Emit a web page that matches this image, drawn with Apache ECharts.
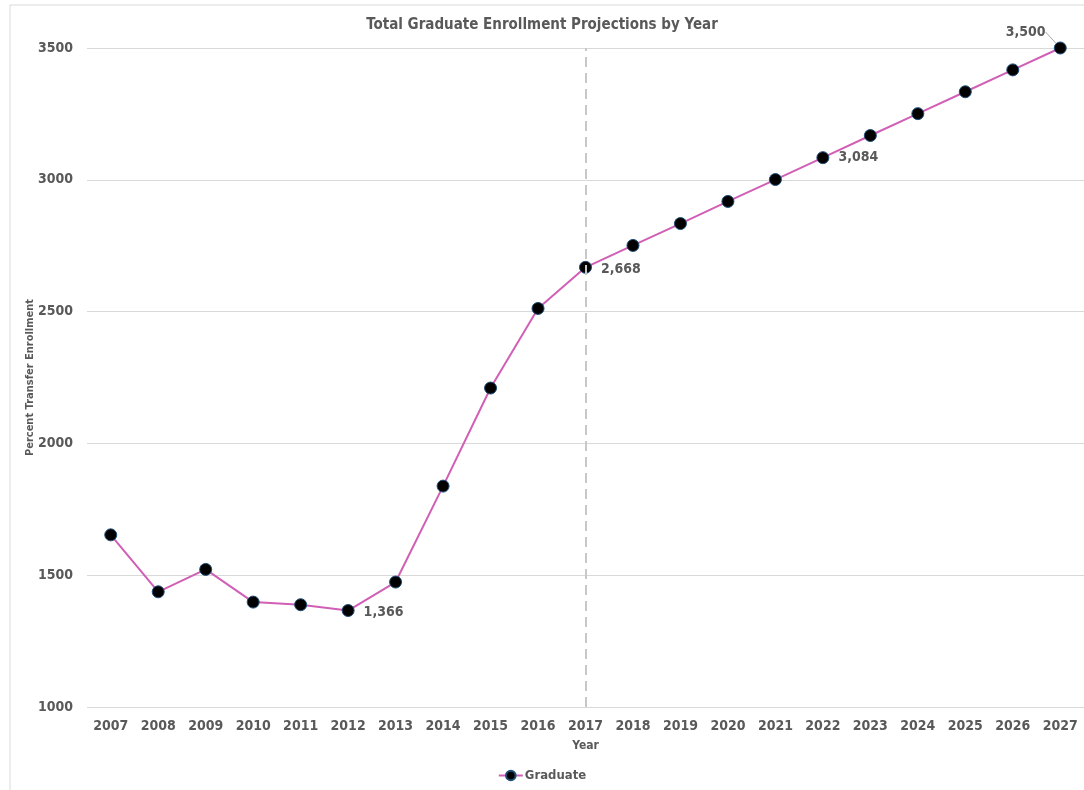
<!DOCTYPE html>
<html>
<head>
<meta charset="utf-8">
<script src="https://cdn.jsdelivr.net/npm/echarts@6/dist/echarts.min.js"></script>
<style>
html,body{margin:0;padding:0;background:#fff;}
#main{width:1084px;height:790px;}
</style>
</head>
<body>
<div id="main"></div>
<script>
var years = ['2007','2008','2009','2010','2011','2012','2013','2014','2015','2016','2017',
	'2018','2019','2020','2021','2022','2023','2024','2025','2026','2027'];
var graduate = [1653,1437,1522,1398,1388,1366,1474,1838,2210,2512,2668,
	2751,2834,2918,3001,3084,3168,3251,3334,3417,3500];
var labeledYears = ['2012','2017','2022','2027'];
var yTicks = {min:1000, max:3500, interval:500};

var font = "'Liberation Sans Narrow','DejaVu Sans Condensed','Roboto',sans-serif";
var txt = '#595959';
var chart = echarts.init(document.getElementById('main'));

// only the last point gets a leader line to its label
var seriesData = graduate.map(function(v, i) {
	var item = {value: v};
	if (i === graduate.length - 1) {
		item.labelLine = {show: true, lineStyle: {color: '#a6a6a6', width: 1}};
	}
	return item;
});

var option = {
	backgroundColor: '#fff',
	textStyle: {fontFamily: font},
	title: {
		text: 'Total Graduate Enrollment Projections by Year',
		left: 'center',
		top: 13,
		textStyle: {color: txt, fontSize: 15, fontWeight: 'bold', fontFamily: font}
	},
	graphic: [{
		type: 'rect',
		shape: {x: 10, y: 5, width: 1100, height: 800},
		style: {fill: 'none', stroke: '#d9d9d9', lineWidth: 1},
		silent: true
	}],
	legend: {
		bottom: 3,
		left: 'center',
		itemWidth: 24,
		itemHeight: 12,
		itemGap: 4,
		textStyle: {color: txt, fontSize: 13, fontWeight: 'bold', fontFamily: font, padding: [0, 0, 0, -3]},
		data: ['Graduate']
	},
	grid: {left: 87, right: -4, top: 48, bottom: 83},
	xAxis: {
		type: 'category',
		data: years,
		name: 'Year',
		nameLocation: 'middle',
		nameGap: 33,
		nameMoveOverlap: false,
		nameTextStyle: {color: txt, fontSize: 12, fontWeight: 'bold'},
		axisLine: {show: false},
		axisTick: {show: false},
		axisLabel: {color: txt, fontSize: 14, fontWeight: 'bold', margin: 12}
	},
	yAxis: {
		type: 'value',
		min: yTicks.min,
		max: yTicks.max,
		interval: yTicks.interval,
		name: 'Percent Transfer Enrollment',
		nameLocation: 'middle',
		nameGap: 51,
		nameMoveOverlap: false,
		nameTextStyle: {color: txt, fontSize: 11, fontWeight: 'bold'},
		axisLine: {show: false},
		axisTick: {show: false},
		axisLabel: {
			color: txt, fontSize: 14, fontWeight: 'bold', margin: 14,
			formatter: function(v) { return String(v); }
		},
		splitLine: {lineStyle: {color: '#d9d9d9', width: 1}}
	},
	series: [{
		name: 'Graduate',
		type: 'line',
		data: seriesData,
		symbol: 'circle',
		symbolSize: 12,
		lineStyle: {color: '#d15fb5', width: 2},
		itemStyle: {color: '#000', borderColor: '#1f4e79', borderWidth: 1},
		label: {
			show: true,
			position: 'right',
			distance: 9,
			color: txt,
			fontSize: 14,
			fontWeight: 'bold',
			formatter: function(p) {
				if (labeledYears.indexOf(p.name) < 0) return '';
				return p.value.toLocaleString('en-US');
			}
		},
		labelLine: {show: false},
		labelLayout: function(p) {
			if (p.dataIndex === graduate.length - 1) {
				return {dx: -70, dy: -16};
			}
			if (p.dataIndex === 5 || p.dataIndex === 10) {
				return {dy: 2};
			}
			return {};
		},
		markLine: {
			silent: true,
			symbol: 'none',
			label: {show: false},
			lineStyle: {color: '#c8c8c8', type: [10, 6], width: 2},
			data: [{xAxis: '2017'}]
		},
		z: 3
	}]
};
chart.setOption(option);
</script>
</body>
</html>
